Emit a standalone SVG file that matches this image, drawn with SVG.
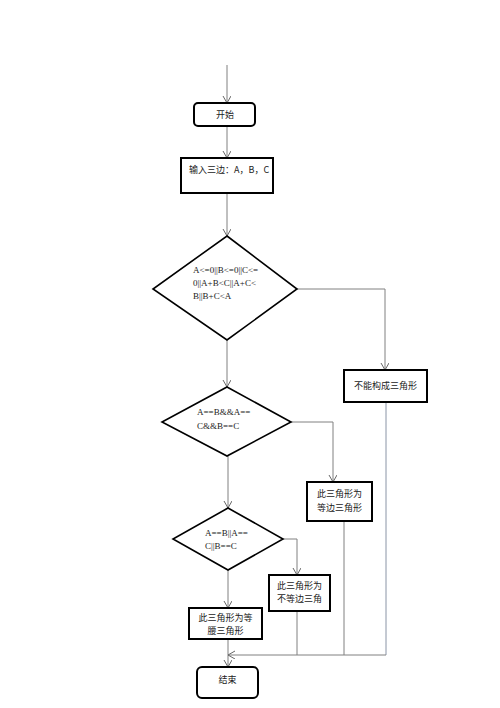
<svg xmlns="http://www.w3.org/2000/svg" width="500" height="708" viewBox="0 0 500 708">
<style>
.box{fill:#fff;stroke:#000;stroke-width:2}
.dia{fill:#fff;stroke:#000;stroke-width:1.6}
.con{fill:none;stroke:#808080;stroke-width:1}
.blue{fill:none;stroke:#8a94a6;stroke-width:1}
.t{font-family:"Noto Sans CJK SC","Noto Sans",sans-serif;font-size:9px;fill:#222}
.e{font-family:"Liberation Serif","Noto Sans CJK SC",serif;font-size:9px;fill:#222}
</style>
<defs>
<marker id="ar" markerWidth="10" markerHeight="10" refX="7" refY="4" orient="auto" markerUnits="userSpaceOnUse">
<path d="M0,0 L7,4 L0,8" fill="none" stroke="#666" stroke-width="1"/>
</marker>
</defs>
<rect width="500" height="708" fill="#fff"/>
<g id="connectors">
<path class="con" d="M227,65 V103" marker-end="url(#ar)"/>
<path class="con" d="M227,126 V158" marker-end="url(#ar)"/>
<path class="con" d="M227,193 V236" marker-end="url(#ar)"/>
<path class="con" d="M297,289 H385 V370" marker-end="url(#ar)"/>
<path class="con" d="M227,340 V387" marker-end="url(#ar)"/>
<path class="con" d="M291,422 H333 V482" marker-end="url(#ar)"/>
<path class="con" d="M228,456 V508" marker-end="url(#ar)"/>
<path class="con" d="M283,539 H297 V575" marker-end="url(#ar)"/>
<path class="con" d="M228,570 V608" marker-end="url(#ar)"/>
<path class="con" d="M228,639 V667" marker-end="url(#ar)"/>
<path class="blue" d="M386,402 V655"/>
<path class="con" d="M344,521 V655"/>
<path class="con" d="M297,611 V655"/>
<path class="con" d="M386,655 H228" marker-end="url(#ar)"/>
</g>
<g id="start">
<rect class="box" x="194" y="103" width="61" height="23" rx="4"/>
<text class="t" x="225" y="118" text-anchor="middle">开始</text>
</g>
<g id="input">
<rect class="box" x="181" y="158" width="92" height="35"/>
<text class="t" x="189" y="173">输入三边：A，B，C</text>
</g>
<g id="cond1">
<polygon class="dia" points="227,236 297,289 227,340 153,289"/>
<text class="e" x="193" y="273">A&lt;=0||B&lt;=0||C&lt;=</text>
<text class="e" x="193" y="286">0||A+B&lt;C||A+C&lt;</text>
<text class="e" x="193" y="299">B||B+C&lt;A</text>
</g>
<g id="notri">
<rect class="box" x="344" y="370" width="83" height="32"/>
<text class="t" x="385.5" y="389" text-anchor="middle">不能构成三角形</text>
</g>
<g id="cond2">
<polygon class="dia" points="227,387 291,422 227,456 162,422"/>
<text class="e" x="197" y="415">A==B&amp;&amp;A==</text>
<text class="e" x="197" y="429">C&amp;&amp;B==C</text>
</g>
<g id="equi">
<rect class="box" x="307" y="482" width="65" height="39"/>
<text class="t" x="339.5" y="497" text-anchor="middle">此三角形为</text>
<text class="t" x="339.5" y="511" text-anchor="middle">等边三角形</text>
</g>
<g id="cond3">
<polygon class="dia" points="228,508 283,539 228,570 173,539"/>
<text class="e" x="205" y="536">A==B||A==</text>
<text class="e" x="205" y="549">C||B==C</text>
</g>
<g id="scalene">
<rect class="box" x="269" y="575" width="61" height="36"/>
<text class="t" x="299.5" y="589" text-anchor="middle">此三角形为</text>
<text class="t" x="299.5" y="602" text-anchor="middle">不等边三角</text>
</g>
<g id="iso">
<rect class="box" x="189" y="608" width="73" height="31"/>
<text class="t" x="225.5" y="621" text-anchor="middle">此三角形为等</text>
<text class="t" x="225.5" y="634" text-anchor="middle">腰三角形</text>
</g>
<g id="end">
<rect class="box" x="197" y="667" width="61" height="31" rx="5"/>
<text class="t" x="227.5" y="683" text-anchor="middle">结束</text>
</g>
</svg>
